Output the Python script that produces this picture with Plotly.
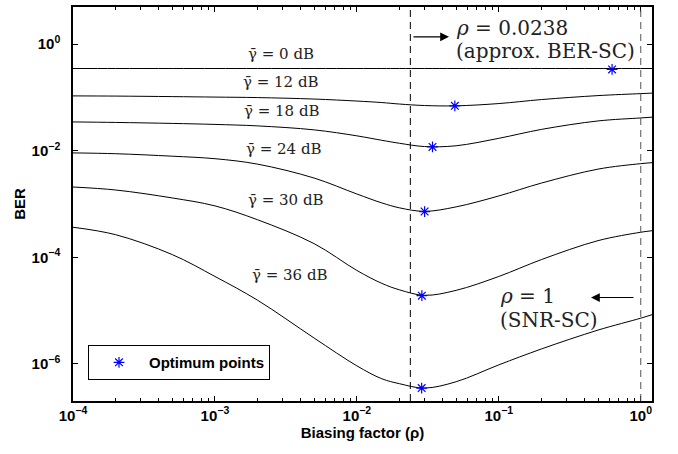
import plotly.graph_objects as go
import math

# ---------------- data ----------------
rho = [1e-4, 2e-4, 5e-4, 1e-3, 2e-3, 5e-3, 1e-2, 0.015, 0.02, 0.03, 0.05, 0.1, 0.2, 0.5, 1.0, 1.2]

ber_0dB  = [0.35, 0.35, 0.35, 0.35, 0.35, 0.35, 0.35, 0.35, 0.35, 0.35, 0.35, 0.35, 0.35, 0.35, 0.35, 0.35]
ber_12dB = [0.1071, 0.1062, 0.1039, 0.1017, 0.0996, 0.0934, 0.0857, 0.0803, 0.0753, 0.0706, 0.0697,
            0.0769, 0.0914, 0.1085, 0.1182, 0.1208]
ber_18dB = [0.03475, 0.0340, 0.0326, 0.0312, 0.02927, 0.02465, 0.01905, 0.01570, 0.01380, 0.01198, 0.01240,
            0.01711, 0.02518, 0.03628, 0.04127, 0.04271]
ber_24dB = [0.00910, 0.00879, 0.00790, 0.00709, 0.00560, 0.00307, 0.00154, 0.001048, 0.000846, 0.000728,
            0.000883, 0.001416, 0.002475, 0.004518, 0.005722, 0.005972]
ber_30dB = [0.002084, 0.001832, 0.001299, 0.000922, 0.000505, 0.000180, 5.65e-5, 3.23e-5, 2.44e-5, 1.93e-5,
            2.39e-5, 4.36e-5, 9.06e-5, 0.000205, 0.000295, 0.000315]
ber_36dB = [3.66e-4, 2.65e-4, 1.123e-4, 4.36e-5, 1.557e-5, 3.04e-6, 9.14e-7, 5.23e-7, 4.22e-7, 3.50e-7,
            4.60e-7, 9.54e-7, 1.90e-6, 4.29e-6, 7.18e-6, 8.35e-6]

snr_labels = ["0", "12", "18", "24", "30", "36"]
series = [ber_0dB, ber_12dB, ber_18dB, ber_24dB, ber_30dB, ber_36dB]

opt_rho = [0.628, 0.049, 0.0341, 0.030, 0.0287, 0.0286]
opt_ber = [0.336, 0.0697, 0.0118, 0.000722, 1.9e-5, 3.5e-7]

rho_ber_sc = 0.0238
rho_snr_sc = 1.0

x_tick_vals = [1e-4, 1e-3, 1e-2, 1e-1, 1e0]
x_tick_text = ["<b>10<sup>−4</sup></b>", "<b>10<sup>−3</sup></b>", "<b>10<sup>−2</sup></b>",
               "<b>10<sup>−1</sup></b>", "<b>10<sup>0</sup></b>"]
y_tick_vals = [1e-6, 1e-4, 1e-2, 1e0]
y_tick_text = ["<b>10<sup>−6</sup></b>", "<b>10<sup>−4</sup></b>", "<b>10<sup>−2</sup></b>", "<b>10<sup>0</sup></b>"]

# ---------------- layout geometry ----------------
W, H = 678, 454
L, R, T, B = 73, 652, 5, 401
x_range = [-4, math.log10(1.2)]
y_range = [math.log10(2e-7), math.log10(5)]


def px(xp):
    return (xp - L) / (R - L)


def py(yp):
    return (B - yp) / (B - T)


fig = go.Figure()

for lab, ys in zip(snr_labels, series):
    fig.add_trace(go.Scatter(x=rho, y=ys, mode="lines",
                             line=dict(color="black", width=1, shape="spline", smoothing=1.0),
                             showlegend=False, hoverinfo="skip", name=lab + " dB"))

fig.add_trace(go.Scatter(x=opt_rho, y=opt_ber, mode="markers", name="Optimum points",
                         marker=dict(symbol="asterisk-open", size=9, color="#0000ff",
                                     line=dict(color="#0000ff", width=1.2))))

# vertical dashed lines
for xv, col in [(rho_ber_sc, "black"), (rho_snr_sc, "#555555")]:
    fig.add_shape(type="line", xref="x", yref="paper", x0=xv, x1=xv, y0=0, y1=1,
                  line=dict(color=col, width=1, dash="7px,5px"))

serif = "DejaVu Serif"
# gamma labels (centre in pixels)
label_pos = [(281, 52), (281, 80), (282, 110), (284, 148), (286, 199), (290, 274)]
for lab, (xp, yp) in zip(snr_labels, label_pos):
    fig.add_annotation(xref="paper", yref="paper", x=px(xp), y=py(yp), showarrow=False,
                       text="γ\u0304 = " + lab + " dB", font=dict(family=serif, size=15, color="#222"),
                       xanchor="center", yanchor="middle")

# rho annotations
for txt, xp, yp in [("<i>ρ</i> = 0.0238", 454, 26), ("(approx. BER-SC)", 454, 49),
                    ("<i>ρ</i> = 1", 498, 295), ("(SNR-SC)", 498, 320)]:
    fig.add_annotation(xref="paper", yref="paper", x=px(xp), y=py(yp), showarrow=False, text=txt,
                       font=dict(family=serif, size=20, color="#222"), xanchor="left", yanchor="middle")

# arrows
fig.add_annotation(xref="paper", yref="paper", x=px(449), y=py(35), ax=-37, ay=0, axref="pixel", ayref="pixel",
                   showarrow=True, text="", arrowhead=2, arrowsize=1.6, arrowwidth=1.1, arrowcolor="black")
fig.add_annotation(xref="paper", yref="paper", x=px(591), y=py(297), ax=44, ay=0, axref="pixel", ayref="pixel",
                   showarrow=True, text="", arrowhead=2, arrowsize=1.6, arrowwidth=1.1, arrowcolor="black")

sans = "Liberation Sans"
minor_x = [k * 10 ** e for e in range(-4, 1) for k in range(2, 10) if k * 10 ** e <= 1.2]

fig.update_xaxes(type="log", range=x_range, tickvals=x_tick_vals, ticktext=x_tick_text,
                 ticks="inside", ticklen=5, tickcolor="black", showgrid=False, zeroline=False,
                 showline=True, linecolor="black", linewidth=1.5, mirror="ticks",
                 tickfont=dict(family=sans, size=15, color="black"),
                 minor=dict(tickvals=minor_x, ticks="inside", ticklen=3, tickcolor="black", showgrid=False),
                 title=dict(text="<b>Biasing factor (ρ)</b>", font=dict(family=sans, size=15, color="black"),
                            standoff=0))
fig.update_yaxes(type="log", range=y_range, tickvals=y_tick_vals, ticktext=y_tick_text,
                 ticks="inside", ticklen=5, tickcolor="black", showgrid=False, zeroline=False,
                 showline=True, linecolor="black", linewidth=1.5, mirror="ticks",
                 tickfont=dict(family=sans, size=15, color="black"),
                 ticklabelstandoff=8,
                 title=dict(text="<b>BER</b>", font=dict(family=sans, size=15, color="black"), standoff=2))

fig.update_layout(width=W, height=H, margin=dict(l=L, r=W - R, t=T, b=H - B),
                  plot_bgcolor="white", paper_bgcolor="white",
                  legend=dict(x=px(88), y=py(380), xanchor="left", yanchor="bottom",
                              bgcolor="white", bordercolor="black", borderwidth=1,
                              font=dict(family=sans, size=15, color="black", weight="bold"),
                              itemwidth=50, tracegroupgap=0))

fig.write_html("out.html", config={"displayModeBar": False},
               post_script="document.body.style.margin='0';document.body.style.overflow='hidden';")
